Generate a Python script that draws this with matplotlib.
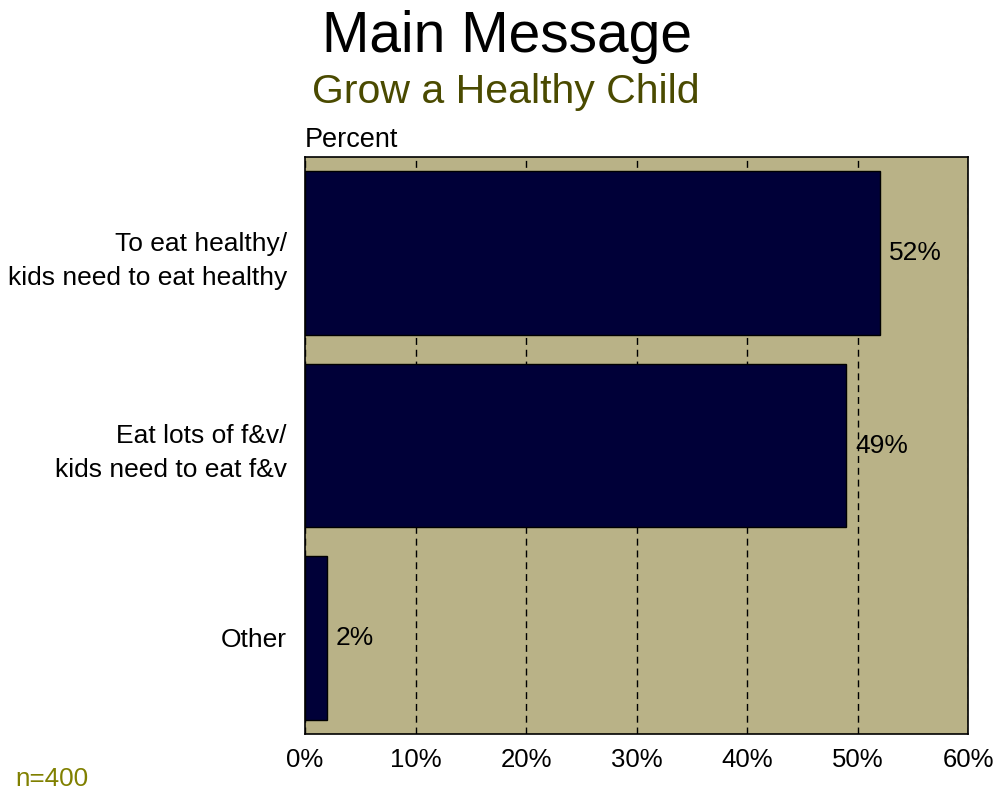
import matplotlib
matplotlib.use("Agg")
import matplotlib.pyplot as plt

plt.rcParams['font.family'] = ['Liberation Sans', 'DejaVu Sans']

categories = ["To eat healthy/\nkids need to eat healthy",
              "Eat lots of f&v/\nkids need to eat f&v",
              "Other"]
values = [52, 49, 2]
value_labels = ["52%", "49%", "2%"]
x_ticks = [0, 10, 20, 30, 40, 50, 60]
x_tick_labels = ["0%", "10%", "20%", "30%", "40%", "50%", "60%"]

bg_color = "#B9B287"
bar_color = "#000038"

fig = plt.figure(figsize=(9.98, 7.93), dpi=100)
ax = fig.add_axes([0.3056, 0.0744, 0.6644, 0.7276])
ax.set_facecolor(bg_color)

y = list(range(len(categories)))
ax.barh(y, values, height=0.85, color=bar_color, edgecolor="black",
        linewidth=1, zorder=3)

for yi, v, lab in zip(y, values, value_labels):
    ax.text(v + 0.8, yi, lab, va="center", ha="left", fontsize=19,
            color="black", zorder=4)

ax.set_xlim(0, 60)
ax.set_ylim(2.5, -0.5)
ax.set_xticks(x_ticks)
ax.set_xticklabels(x_tick_labels, fontsize=18.5)
ax.set_yticks(y)
ax.set_yticklabels(categories, fontsize=19, linespacing=1.55)
ax.tick_params(axis="both", length=0)
ax.tick_params(axis="y", pad=13)
ax.tick_params(axis="x", pad=10)
for lbl in ax.get_yticklabels():
    lbl.set_horizontalalignment("right")

ax.xaxis.grid(True, linestyle=(0, (5, 3.5)), color="black", linewidth=1, zorder=1)
ax.set_axisbelow(True)
for s in ax.spines.values():
    s.set_linewidth(1.2)
    s.set_color("black")

fig.text(0.3056, 1 - 147 / 793, "Percent", ha="left", va="baseline",
         fontsize=19.5)

fig.text(0.508, 1 - 52 / 793, "Main Message", ha="center", va="baseline",
         fontsize=41, color="black")
fig.text(0.507, 1 - 103 / 793, "Grow a Healthy Child", ha="center",
         va="baseline", fontsize=29.5, color="#4A4A00")
fig.text(0.015, 1 - 786 / 793, "n=400", ha="left", va="baseline",
         fontsize=18.7, color="#808000")

fig.savefig("out.png", dpi=100, facecolor="white")
